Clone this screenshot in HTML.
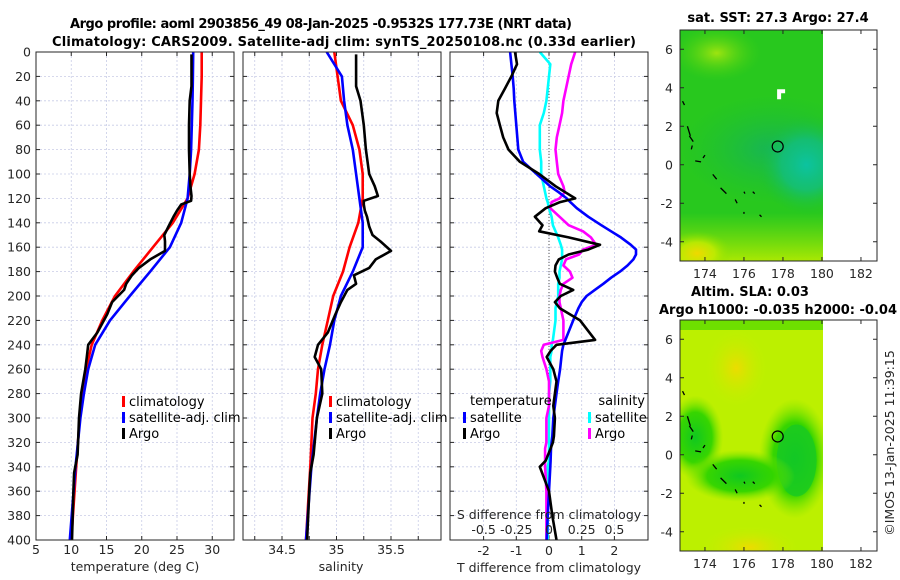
<!DOCTYPE html>
<html><head><meta charset="utf-8">
<style>
html,body{margin:0;padding:0;background:#fff;}
svg{display:block;font-family:"DejaVu Sans","Liberation Sans",sans-serif;}
.tk{font-size:12.5px;fill:#262626;}
.ttl{font-size:13px;font-weight:bold;fill:#000;}
.lg{font-size:13px;fill:#000;}
</style></head>
<body>
<svg id="fig" width="900" height="580" viewBox="0 0 900 580" xmlns="http://www.w3.org/2000/svg">
<defs>
<clipPath id="c1"><rect x="36" y="52" width="198" height="488"/></clipPath>
<clipPath id="c2"><rect x="243" y="52" width="198" height="488"/></clipPath>
<clipPath id="c3"><rect x="450" y="52" width="198" height="488"/></clipPath>
<clipPath id="cm1"><rect x="680" y="30" width="143" height="231"/></clipPath>
<clipPath id="cm2"><rect x="680" y="320" width="143" height="231"/></clipPath>
<radialGradient id="teal" cx="0.5" cy="0.5" r="0.5"><stop offset="0" stop-color="#0cc3a0"/><stop offset="0.5" stop-color="#12be80" stop-opacity="0.8"/><stop offset="1" stop-color="#1cc030" stop-opacity="0"/></radialGradient>
<radialGradient id="band" cx="0.5" cy="0.5" r="0.5"><stop offset="0" stop-color="#16b45a"/><stop offset="1" stop-color="#1cc030" stop-opacity="0"/></radialGradient>
<radialGradient id="ylw" cx="0.5" cy="0.5" r="0.5"><stop offset="0" stop-color="#f0d800"/><stop offset="0.5" stop-color="#c8ec00" stop-opacity="0.8"/><stop offset="1" stop-color="#80e000" stop-opacity="0"/></radialGradient>
<radialGradient id="lgreen" cx="0.5" cy="0.5" r="0.5"><stop offset="0" stop-color="#9ee410"/><stop offset="1" stop-color="#40d010" stop-opacity="0"/></radialGradient>
<radialGradient id="g2" cx="0.5" cy="0.5" r="0.5"><stop offset="0" stop-color="#10c820"/><stop offset="0.6" stop-color="#30d400" stop-opacity="0.95"/><stop offset="1" stop-color="#80e400" stop-opacity="0"/></radialGradient>
<radialGradient id="o2" cx="0.5" cy="0.5" r="0.5"><stop offset="0" stop-color="#ecdc00"/><stop offset="1" stop-color="#c0f000" stop-opacity="0"/></radialGradient>
<linearGradient id="botY" x1="0" y1="0" x2="0" y2="1"><stop offset="0" stop-color="#a0e800" stop-opacity="0"/><stop offset="1" stop-color="#b8ec00" stop-opacity="0.9"/></linearGradient>
</defs>
<g id="root"></g>
</svg>
<script>
// ---------------- data ----------------
const depthClim = [0,20,40,60,80,100,120,140,160,180,200,220,240,260,280,300,340,400];
const tempClim  = [28.5,28.5,28.4,28.3,28.1,27.5,26.5,24.4,21.6,18.8,16.2,14.4,12.9,12.1,11.6,11.2,10.7,10.0];
const tempSat   = [27.3,27.25,27.2,27.1,27.0,26.8,26.5,25.6,24.0,21.2,18.3,15.5,13.4,12.4,11.8,11.3,10.6,9.8];
const salClim   = [34.98,35.01,35.04,35.15,35.21,35.24,35.24,35.20,35.12,35.06,34.97,34.92,34.87,34.83,34.81,34.78,34.76,34.72];
const salSat    = [34.91,35.05,35.07,35.10,35.15,35.18,35.21,35.24,35.24,35.15,35.04,34.98,34.94,34.89,34.85,34.82,34.77,34.72];
const depthArgo = [2,28,40,60,80,100,110,118,122,125,130,135,143,150,155,163,170,177,183,190,195,205,215,230,240,250,260,280,300,330,345,360,380,400];
const tempArgo  = [27.05,27.05,26.8,26.7,26.7,26.8,26.9,27.05,27.0,25.6,25.0,24.5,23.8,23.2,23.3,23.3,21.2,19.6,18.6,17.8,17.5,15.8,15.1,13.7,12.4,12.2,12.0,11.4,11.1,10.9,10.4,10.3,10.2,10.1];
const salArgo   = [35.18,35.18,35.22,35.25,35.27,35.30,35.35,35.38,35.25,35.25,35.26,35.28,35.30,35.33,35.40,35.50,35.36,35.30,35.16,35.18,35.10,35.04,34.99,34.92,34.83,34.80,34.86,34.87,34.82,34.79,34.76,34.75,34.74,34.73];
const depthDiff = [0,10,20,30,40,50,60,70,80,90,100,110,115,120,123,128,135,142,147,152,158,162,166,170,175,180,185,190,195,200,205,210,220,236,240,245,250,260,270,280,290,300,315,320,325,335,340,360,380,400];
const dTsat  = [-1.19,-1.15,-1.11,-1.08,-1.06,-1.03,-1.0,-0.97,-0.94,-0.79,-0.38,0.03,0.3,0.54,0.65,0.85,1.2,1.6,1.9,2.2,2.5,2.66,2.66,2.58,2.4,2.17,1.9,1.66,1.4,1.15,1.0,0.9,0.74,0.5,0.44,0.4,0.38,0.34,0.28,0.23,0.18,0.13,0.1,0.08,0.06,0.05,0.04,0.0,-0.04,-0.07];
const dTargo = [-1.04,-0.98,-1.15,-1.35,-1.55,-1.6,-1.5,-1.4,-1.24,-0.89,-0.3,0.2,0.5,0.8,0.34,-0.1,-0.43,-0.2,-0.3,0.6,1.56,1.2,0.6,0.3,0.2,0.18,0.25,0.33,0.74,0.36,0.18,0.33,0.95,1.41,0.23,0.05,-0.07,0.13,0.23,0.18,0.13,0.18,0.15,0.12,0.05,-0.1,-0.28,0.0,0.1,0.23];
const dSsat  = [-0.07,0.01,0.0,-0.01,-0.02,-0.04,-0.07,-0.07,-0.07,-0.06,-0.06,-0.04,-0.03,-0.02,-0.01,0.0,0.02,0.03,0.05,0.07,0.09,0.1,0.1,0.1,0.09,0.08,0.08,0.07,0.07,0.07,0.06,0.05,0.05,0.03,0.02,0.02,0.01,0.01,0.01,0.0,0.0,0.0,0.0,0.0,0.0,0.0,-0.01,-0.01,-0.01,-0.01];
const dSargo = [0.2,0.17,0.15,0.13,0.11,0.1,0.08,0.06,0.05,0.06,0.07,0.11,0.12,0.08,0.02,0.01,0.08,0.15,0.26,0.32,0.36,0.26,0.23,0.13,0.11,0.16,0.18,0.11,0.09,0.08,0.08,0.09,0.11,0.11,-0.04,-0.06,-0.05,-0.02,0.0,0.0,0.0,-0.02,-0.02,-0.02,-0.03,-0.03,-0.03,-0.02,-0.02,-0.02];
const depthTicks = [0,20,40,60,80,100,120,140,160,180,200,220,240,260,280,300,320,340,360,380,400];
const tempTicks = [5,10,15,20,25,30];
const salTicks = [34.5,35,35.5];
const salGrid = [34.25,34.5,34.75,35,35.25,35.5,35.75];
const dTTicks = [-2,-1,0,1,2];
const dSTicks = [-0.5,-0.25,0,0.25,0.5];
const lonTicks = [174,176,178,180,182];
const latTicks = [-4,-2,0,2,4,6];
const argoLon = 177.73, argoLat = 0.95;

// ---------------- scales ----------------
const Y = d => 52 + d*488/400;
const XT = t => 36 + (t-5)*7.05;
const XS = s => 282 + (s-34.5)*109;
const XD = t => 549 + t*32.7;
const XDs = s => XD(s*4);
const LX = lon => 680 + (lon-172.72)*19.5;
const LY1 = lat => 30 + (7-lat)*19.25;
const LY2 = lat => 320 + (7-lat)*19.25;

const NS="http://www.w3.org/2000/svg";
const root=document.getElementById('root');
function mk(tag,attrs,parent){const e=document.createElementNS(NS,tag);for(const k in attrs)e.setAttribute(k,attrs[k]);(parent||root).appendChild(e);return e;}
function txt(x,y,s,cls,anchor,parent){const t=mk('text',{x:x,y:y,class:cls,'text-anchor':anchor||'middle'},parent);t.textContent=s;return t;}

// ---------------- title ----------------
let t1=txt(321,28,'Argo profile: aoml 2903856_49 08-Jan-2025 -0.9532S 177.73E (NRT data)','ttl');
t1.setAttribute('textLength','502');


let t2=txt(344,46,'Climatology: CARS2009. Satellite-adj clim: synTS_20250108.nc (0.33d earlier)','ttl');
t2.setAttribute('textLength','584');



// ---------------- profile panels ----------------
function panel(x0,clip,name){
  const g=mk('g',{});
  
  
  mk('rect',{x:x0,y:52,width:198,height:488,fill:'#fff'},g);
  depthTicks.forEach(d=>{
    if(d>0&&d<400){const l=mk('line',{x1:x0,x2:x0+198,y1:Y(d),y2:Y(d),stroke:'#c8cce6','stroke-width':0.8,'stroke-dasharray':'2,2'},g);
    
    }
    mk('line',{x1:x0,x2:x0+4,y1:Y(d),y2:Y(d),stroke:'#262626'},g);
    mk('line',{x1:x0+194,x2:x0+198,y1:Y(d),y2:Y(d),stroke:'#262626'},g);
  });
  return g;
}
function border(x0,g){mk('rect',{x:x0,y:52,width:198,height:488,fill:'none',stroke:'#262626','stroke-width':1},g);}
function vgrid(g,vals,fx){vals.forEach(v=>{const l=mk('line',{x1:fx(v),x2:fx(v),y1:52,y2:540,stroke:'#c8cce6','stroke-width':0.8,'stroke-dasharray':'2,2'},g);
  
  
  mk('line',{x1:fx(v),x2:fx(v),y1:540,y2:536,stroke:'#262626'},g);
  mk('line',{x1:fx(v),x2:fx(v),y1:52,y2:56,stroke:'#262626'},g);});}
function line(g,xs,ds,fx,color,clip,name,w){
  const pts=xs.map((v,i)=>fx(v).toFixed(1)+','+Y(ds[i]).toFixed(1)).join(' ');
  const p=mk('polyline',{points:pts,fill:'none',stroke:color,'stroke-width':w||2.6,'stroke-linejoin':'round','clip-path':'url(#'+clip+')'},g);
  
  
}
function legendItem(g,x,y,color,label,name){
  const r=mk('rect',{x:x,y:y-10,width:3,height:11,fill:color},g);
  
  
  const t=txt(x+7,y,label,'lg','start',g);
  
  
}

// panel 1
const g1=panel(36,'c1','temperature-panel');
vgrid(g1,[10,15,20,25,30],XT);
line(g1,tempClim,depthClim,XT,'#ff0000','c1','temp-climatology-line');
line(g1,tempSat,depthClim,XT,'#0000ff','c1','temp-satellite-line');
line(g1,tempArgo,depthArgo,XT,'#000000','c1','temp-argo-line');
border(36,g1);
depthTicks.forEach(d=>{const t=txt(31,Y(d)+4.5,String(d),'tk','end',g1);
  
  });
tempTicks.forEach(v=>{const t=txt(XT(v),554,String(v),'tk','middle',g1);
  
  });
let xl1=txt(135,571,'temperature (deg C)','tk','middle',g1);


legendItem(g1,122,406,'#ff0000','climatology','legend-climatology');
legendItem(g1,122,422,'#0000ff','satellite-adj. clim','legend-satellite-adj');
legendItem(g1,122,438,'#000000','Argo','legend-argo');

// panel 2
const g2=panel(243,'c2','salinity-panel');
vgrid(g2,salGrid,XS);
line(g2,salClim,depthClim,XS,'#ff0000','c2','sal-climatology-line');
line(g2,salSat,depthClim,XS,'#0000ff','c2','sal-satellite-line');
line(g2,salArgo,depthArgo,XS,'#000000','c2','sal-argo-line');
border(243,g2);
salTicks.forEach(v=>{const t=txt(XS(v),554,String(v),'tk','middle',g2);
  
  });
let xl2=txt(341,571,'salinity','tk','middle',g2);


legendItem(g2,329,406,'#ff0000','climatology','legend-sal-climatology');
legendItem(g2,329,422,'#0000ff','satellite-adj. clim','legend-sal-satellite-adj');
legendItem(g2,329,438,'#000000','Argo','legend-sal-argo');

// panel 3
const g3=panel(450,'c3','difference-panel');
vgrid(g3,dTTicks,XD);
const zl=mk('line',{x1:XD(0),x2:XD(0),y1:52,y2:540,stroke:'#555','stroke-width':1,'stroke-dasharray':'1,2'},g3);


line(g3,dSsat,depthDiff,XDs,'#00ffff','c3','sal-diff-satellite-line');
line(g3,dSargo,depthDiff,XDs,'#ff00ff','c3','sal-diff-argo-line');
line(g3,dTsat,depthDiff,XD,'#0000ff','c3','temp-diff-satellite-line');
line(g3,dTargo,depthDiff,XD,'#000000','c3','temp-diff-argo-line');
border(450,g3);
dTTicks.forEach(v=>{const t=txt(XD(v),555,String(v),'tk','middle',g3);
  
  });
let xl3=txt(549,572,'T difference from climatology','tk','middle',g3);


let sl=txt(549,519,'S difference from climatology','tk','middle',g3);


dSTicks.forEach(v=>{const t=txt(XDs(v),534,String(v),'tk','middle',g3);
  
  });
let lt=txt(470,405,'temperature','lg','start',g3);


let ls=txt(645,405,'salinity','lg','end',g3);


legendItem(g3,463,422,'#0000ff','satellite','legend-tdiff-satellite');
legendItem(g3,463,438,'#000000','Argo','legend-tdiff-argo');
legendItem(g3,588,422,'#00ffff','satellite','legend-sdiff-satellite');
legendItem(g3,588,438,'#ff00ff','Argo','legend-sdiff-argo');

// ---------------- maps ----------------
const coast=[[172.85,3.3,172.95,3.1],[173.1,2.0,173.25,1.5],[173.2,1.5,173.4,1.2],[173.35,1.0,173.3,0.8],[173.5,0.2,173.8,0.15],[173.9,0.35,174.0,0.5],[174.4,-0.5,174.6,-0.75],[174.8,-1.2,175.1,-1.5],[175.55,-1.8,175.65,-2.0],[176.0,-1.4,176.05,-1.5],[176.45,-1.4,176.55,-1.5],[176.0,-2.45,176.0,-2.55],[176.8,-2.6,176.9,-2.7]];
function map(LY,clip,name,title1,title2,kind){
  const g=mk('g',{});
  
  
  const top=LY(7), bot=LY(-5);
  const cg=mk('g',{'clip-path':'url(#'+clip+')'},g);
  if(kind===1){
    mk('rect',{x:680,y:top,width:143,height:231,fill:'#28c81e'},cg);
    mk('ellipse',{cx:LX(174.6),cy:LY(5.8),rx:45,ry:28,fill:'url(#lgreen)'},cg);
    mk('rect',{x:680,y:LY(-2.5),width:143,height:LY(-5)-LY(-2.5),fill:'url(#botY)'},cg);
    mk('ellipse',{cx:LX(173.6),cy:LY(-4.6),rx:35,ry:22,fill:'url(#ylw)'},cg);
    mk('ellipse',{cx:LX(177.5),cy:LY(0.8),rx:95,ry:55,fill:'url(#band)'},cg);
    mk('ellipse',{cx:LX(179.2),cy:LY(0),rx:50,ry:50,fill:'url(#teal)'},cg);
    const w=mk('path',{d:'M'+LX(177.7)+' '+LY(3.4)+' v-10 h8 v4 h-4 v6 z',fill:'#fff'},cg);
    
    
  } else {
    mk('rect',{x:680,y:top,width:143,height:231,fill:'#bcf000'},cg);
    mk('rect',{x:680,y:top,width:143,height:10,fill:'#6ee000'},cg);
    mk('ellipse',{cx:LX(175.6),cy:LY(4.5),rx:32,ry:40,fill:'url(#o2)'},cg);
    mk('ellipse',{cx:LX(176.3),cy:LY(-4.8),rx:50,ry:22,fill:'url(#o2)'},cg);
    mk('ellipse',{cx:LX(178.6),cy:LY(-0.2),rx:36,ry:60,fill:'url(#g2)'},cg);
    mk('ellipse',{cx:LX(178.7),cy:LY(-0.3),rx:20,ry:36,fill:'#14c828','fill-opacity':0.7},cg);
    mk('ellipse',{cx:LX(173.5),cy:LY(0.9),rx:28,ry:42,fill:'url(#g2)'},cg);
    mk('ellipse',{cx:LX(175.8),cy:LY(-1.1),rx:55,ry:26,fill:'url(#g2)'},cg);
  }
  coast.forEach(c=>{const p=mk('line',{x1:LX(c[0]),y1:LY(c[1]),x2:LX(c[2]),y2:LY(c[3]),stroke:'#000','stroke-width':1.3},cg);
    
    });
  const cir=mk('circle',{cx:LX(argoLon),cy:LY(argoLat),r:5.5,fill:'none',stroke:'#000','stroke-width':1.2},g);
  
  
  mk('rect',{x:680,y:top,width:197,height:231,fill:'none',stroke:'#262626'},g);
  latTicks.forEach(v=>{mk('line',{x1:680,x2:684,y1:LY(v),y2:LY(v),stroke:'#262626'},g);
    mk('line',{x1:873,x2:877,y1:LY(v),y2:LY(v),stroke:'#262626'},g);
    const t=txt(673,LY(v)+4.5,String(v),'tk','end',g);
    
    });
  lonTicks.forEach(v=>{mk('line',{x1:LX(v),x2:LX(v),y1:bot,y2:bot-4,stroke:'#262626'},g);
    mk('line',{x1:LX(v),x2:LX(v),y1:top,y2:top+4,stroke:'#262626'},g);
    const t=txt(LX(v),bot+17,String(v),'tk','middle',g);
    
    });
  if(title2){
    const a=txt(750,top-24,title1,'ttl','middle',g);
    
    
    const b=txt(778,top-6,title2,'ttl','middle',g);
    b.setAttribute('textLength','238');
    
    
  } else {
    const a=txt(778,top-8,title1,'ttl','middle',g);
    
    
  }
}
map(LY1,'cm1','sst-map','sat. SST: 27.3 Argo: 27.4',null,1);
map(LY2,'cm2','sla-map','Altim. SLA: 0.03','Argo h1000: -0.035 h2000: -0.04',2);

const cr=txt(0,0,'©IMOS 13-Jan-2025 11:39:15','tk','middle');
cr.setAttribute('transform','translate(894,443) rotate(-90)');


</script>
</body></html>
